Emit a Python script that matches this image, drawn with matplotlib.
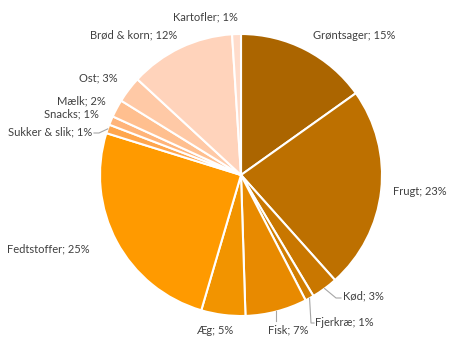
import numpy as np
import matplotlib.pyplot as plt

plt.rcParams['font.family'] = ['Lato', 'DejaVu Sans']

categories = ['Grøntsager', 'Frugt', 'Kød', 'Fjerkræ', 'Fisk', 'Æg', 'Fedtstoffer',
              'Sukker & slik', 'Snacks', 'Mælk', 'Ost', 'Brød & korn', 'Kartofler']
values = [15, 23, 3, 1, 7, 5, 25, 1, 1, 2, 3, 12, 1]
colors = ['#ab6500', '#bd7000', '#c97700', '#d27e00', '#e88a00', '#f29400', '#ff9a00',
          '#ffa64d', '#ffb47a', '#ffbf8f', '#ffc9a6', '#ffd3bb', '#ffdccb']

# label layout in pixel coords of the 454x347 image (from top-left)
label_pos = [(313, 35, 'left'), (393, 191, 'left'), (343, 296, 'left'),
             (315, 322, 'left'), (268, 330, 'left'), (196, 330, 'left'),
             (90, 249, 'right'), (92, 132, 'right'), (99, 114, 'right'),
             (106, 101, 'right'), (118, 78, 'right'), (177, 35, 'right'),
             (238, 17, 'right')]
# leader lines: elbow and end point, pixel coords
leaders = {'Kød': [(336, 298), (341, 298)],
           'Fjerkræ': [(311, 323), (314, 323)],
           'Fisk': [None, (277, 321)],
           'Sukker & slik': [(99, 133), (94, 133)]}

W, H = 454, 347
fig = plt.figure(figsize=(W / 100, H / 100), dpi=100)
ax = fig.add_axes([0, 0, 1, 1])

cx, cy, r = 241, H - 175, 141
wedges, _ = ax.pie(values, colors=colors, startangle=90, counterclock=False,
                   center=(cx, cy), radius=r, frame=True,
                   wedgeprops=dict(edgecolor='white', linewidth=1.5))
ax.set_xlim(0, W)
ax.set_ylim(0, H)
ax.set_aspect('equal')
ax.axis('off')

for w, name, v, (x, y, ha) in zip(wedges, categories, values, label_pos):
    ax.text(x, H - y, f'{name}; {v}%', ha=ha, va='center', fontsize=8, color='#404040')
    if name in leaders:
        mid = np.deg2rad((w.theta1 + w.theta2) / 2)
        px, py = cx + r * np.cos(mid), cy + r * np.sin(mid)
        elbow, end = leaders[name]
        if elbow is None:
            xs, ys = [px, px], [py, H - end[1]]
        else:
            xs = [px, elbow[0], end[0]]
            ys = [py, H - elbow[1], H - end[1]]
        ax.plot(xs, ys, color='#a6a6a6', lw=0.8)

fig.savefig('out.png', dpi=100)
